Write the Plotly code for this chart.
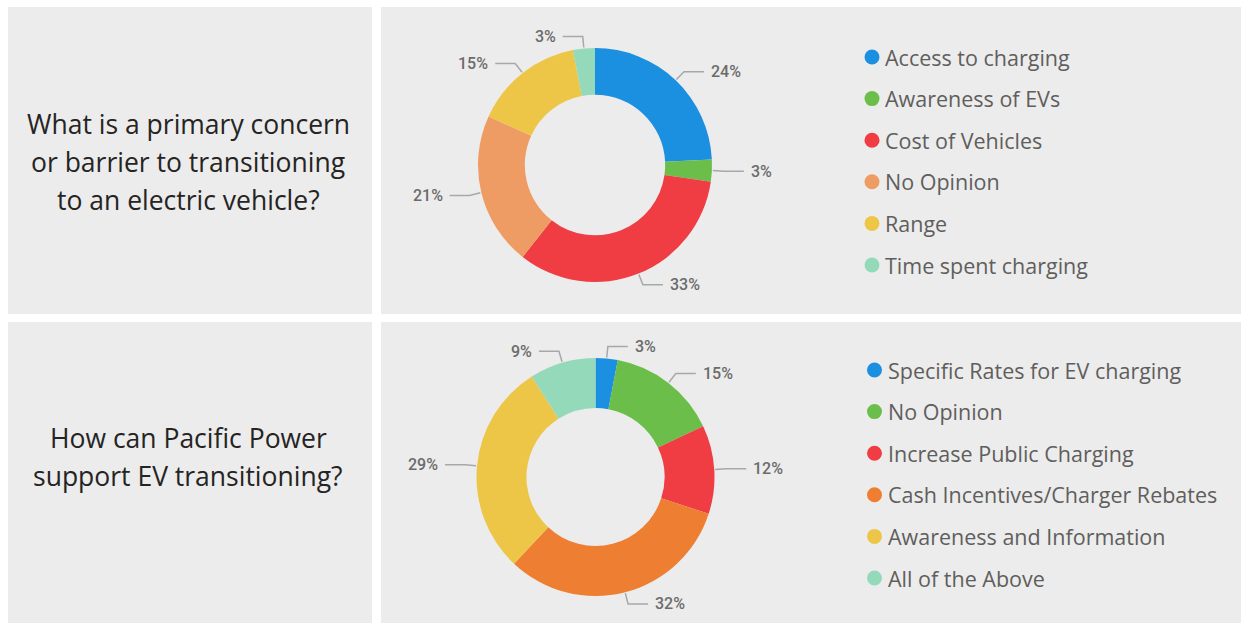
import math
import plotly.graph_objects as go

W, H = 1241, 623

# ---------------- data ----------------
q1_title = ["What is a primary concern", "or barrier to transitioning", "to an electric vehicle?"]
q1_labels = ["Access to charging", "Awareness of EVs", "Cost of Vehicles",
             "No Opinion", "Range", "Time spent charging"]
q1_values = [24, 3, 33, 21, 15, 3]
q1_colors = ["#1B8FE0", "#6BBE4A", "#EF3D43", "#EE9C63", "#EDC648", "#95D9BB"]

q2_title = ["How can Pacific Power", "support EV transitioning?"]
q2_labels = ["Specific Rates for EV charging", "No Opinion", "Increase Public Charging",
             "Cash Incentives/Charger Rebates", "Awareness and Information", "All of the Above"]
q2_values = [3, 15, 12, 32, 29, 9]
q2_colors = ["#1B8FE0", "#6BBE4A", "#EF3D43", "#EE7E31", "#EDC648", "#95D9BB"]

# ---------------- layout (pixels) ----------------
PANEL = "#ECECEC"
panels = [(8, 7, 372, 314), (381, 7, 1241, 314), (8, 322, 372, 623), (381, 322, 1241, 623)]
charts = [
    dict(labels=q1_labels, values=q1_values, colors=q1_colors, title=q1_title,
         cx=595, cy=165, r=117, hole=0.6, title_y=124, leg_x=872, leg_y=57),
    dict(labels=q2_labels, values=q2_values, colors=q2_colors, title=q2_title,
         cx=595.5, cy=477, r=119, hole=0.58, title_y=438, leg_x=874.5, leg_y=370),
]

fig = go.Figure()
shapes, annotations = [], []

for (x0, y0, x1, y1) in panels:
    shapes.append(dict(type="rect", xref="x", yref="y", x0=x0, y0=y0, x1=x1, y1=y1,
                       fillcolor=PANEL, line=dict(width=0), layer="below"))

LINE = "#A8A8A8"
LBL = "#6B6B6B"
for c in charts:
    cx, cy, r = c["cx"], c["cy"], c["r"]
    fig.add_trace(go.Pie(
        labels=c["labels"], values=c["values"], hole=c["hole"], sort=False,
        direction="clockwise", rotation=0,
        marker=dict(colors=c["colors"], line=dict(width=0)),
        textinfo="none", showlegend=False, hoverinfo="label+percent",
        domain=dict(x=[(cx - r) / W, (cx + r) / W], y=[1 - (cy + r) / H, 1 - (cy - r) / H]),
    ))
    total = sum(c["values"])
    cum = 0
    for v in c["values"]:
        mid = (cum + v / 2) / total * 2 * math.pi
        cum += v
        s, co = math.sin(mid), math.cos(mid)
        p1 = (cx + (r + 1) * s, cy - (r + 1) * co)
        p2 = (cx + (r + 12) * s, cy - (r + 12) * co)
        sign = 1 if s >= 0 else -1
        p3 = (p2[0] + sign * 20, p2[1])
        shapes.append(dict(type="path", xref="x", yref="y",
                           path=f"M {p1[0]},{p1[1]} L {p2[0]},{p2[1]} L {p3[0]},{p3[1]}",
                           line=dict(color=LINE, width=1.5)))
        annotations.append(dict(x=p3[0] + sign * 5, y=p3[1], xref="x", yref="y",
                                text=f"{round(v / total * 100)}%", showarrow=False,
                                xanchor="left" if sign > 0 else "right", yanchor="middle",
                                font=dict(family="Roboto", size=16, color=LBL, weight=500)))
    # legend
    for i, (lab, col) in enumerate(zip(c["labels"], c["colors"])):
        y = c["leg_y"] + i * 41.6
        shapes.append(dict(type="circle", xref="x", yref="y",
                           x0=c["leg_x"] - 7.5, x1=c["leg_x"] + 7.5, y0=y - 7.5, y1=y + 7.5,
                           fillcolor=col, line=dict(width=0)))
        annotations.append(dict(x=c["leg_x"] + 11, y=y, xref="x", yref="y", text=lab,
                                showarrow=False, xanchor="left", yanchor="middle",
                                font=dict(family="Open Sans", size=21.5, color="#605E5C")))
    # question
    for j, line in enumerate(c["title"]):
        annotations.append(dict(x=188, y=c["title_y"] + j * 38, xref="x", yref="y", text=line,
                                showarrow=False, xanchor="center", yanchor="middle",
                                font=dict(family="Open Sans", size=26.5, color="#252423")))

fig.update_layout(
    width=W, height=H, margin=dict(l=0, r=0, t=0, b=0),
    paper_bgcolor="white", plot_bgcolor="rgba(0,0,0,0)",
    xaxis=dict(range=[0, W], visible=False, fixedrange=True),
    yaxis=dict(range=[H, 0], visible=False, fixedrange=True),
    shapes=shapes, annotations=annotations, showlegend=False,
)
fig.write_html("out.html")
